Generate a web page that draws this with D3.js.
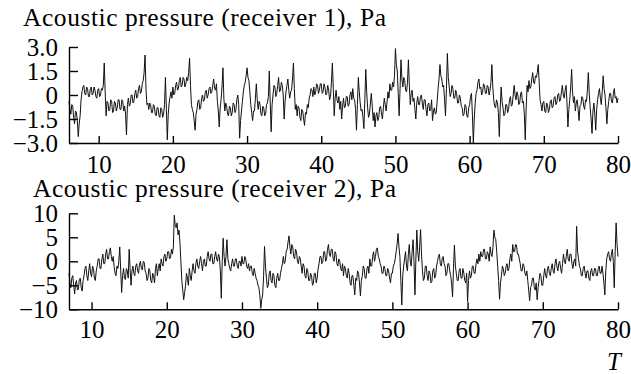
<!DOCTYPE html>
<html><head><meta charset="utf-8">
<script src="https://cdn.jsdelivr.net/npm/d3@7"></script>
<style>
html,body{margin:0;padding:0;background:#fff;}
svg{display:block;}
text{font-family:"Liberation Serif","Times New Roman",serif;fill:#000;}
</style></head>
<body>
<svg id="chart" width="631" height="374"></svg>
<script>
const xTickValues = [10, 20, 30, 40, 50, 60, 70, 80];
const xTickLabels = ["10", "20", "30", "40", "50", "60", "70", "80"];

const title1 = "Acoustic pressure (receiver 1), Pa";
const y1TickValues = [3, 1.5, 0, -1.5, -3];
const y1TickLabels = ["3.0", "1.5", "0", "\u22121.5", "\u22123.0"];
const t1Start = 6, t1Step = 0.125;
const pressure1 = [
 -0.4,-0.9,-1.2,-0.6,-0.7,-1.4,-1.8,-1.0,
 -1.1,-1.6,-2.6,-1.8,-1.3,-0.3,0.2,0.5,
 0.6,0.1,0.0,0.5,0.4,-0.1,-0.1,0.4,
 0.5,0.0,0.1,0.5,0.3,-0.1,-0.2,0.3,
 0.4,-0.1,0.0,0.4,0.3,0.6,2.0,0.2,
 -1.3,-0.4,-0.5,-1.0,-0.9,-0.3,-0.4,-1.1,
 -1.0,-0.4,-0.5,-1.0,-0.8,-0.3,-0.3,-0.9,
 -0.9,-0.3,-0.4,-1.0,-0.7,-1.2,-2.5,-0.6,
 -0.2,-0.7,-0.6,0.0,0.0,-0.5,-0.4,0.1,
 0.3,-0.2,-0.1,0.4,0.6,0.1,0.2,0.7,
 0.9,1.4,2.5,0.4,-0.6,-0.5,-0.9,-0.5,
 -0.6,-1.1,-1.1,-0.6,-0.7,-1.2,-1.3,-0.8,
 -0.8,-1.3,-1.4,-0.8,-0.9,-1.4,-1.2,-0.6,
 1.1,-0.9,-2.8,-1.2,-0.5,-0.1,0.2,-0.2,
 0.5,0.0,0.1,0.6,0.8,0.3,0.4,0.9,
 1.1,0.5,0.6,1.1,1.0,0.5,0.7,1.1,
 0.9,1.4,2.3,0.6,-0.6,-0.9,-1.1,-1.6,
 -2.2,-1.2,-0.9,-0.4,-0.3,-0.9,-0.8,-0.2,
 0.0,-0.4,-0.3,0.2,0.3,-0.2,0.0,0.4,
 0.5,0.1,0.2,0.6,1.0,0.4,0.3,0.7,
 -0.4,-1.0,-2.0,-0.8,-0.3,0.5,1.7,-0.2,
 -1.0,-0.5,-0.7,-1.2,-1.3,-0.7,-0.8,-1.3,
 -1.1,-0.5,-0.6,-1.1,-0.9,-0.3,0.0,-0.6,
 -2.7,-1.6,-1.0,-0.4,0.2,0.6,0.8,1.2,
 1.7,1.1,0.9,0.2,-0.6,-1.1,-1.6,-1.0,
 -1.0,-0.2,0.7,-0.3,-0.9,-0.4,-0.6,-1.2,
 -1.3,-0.7,-0.8,-1.3,-1.2,-0.6,-0.5,-0.1,
 1.5,-0.5,-2.3,-0.6,0.0,0.6,0.5,-0.1,
 0.1,0.6,1.1,0.2,0.3,0.8,0.6,0.0,
 -1.5,-0.4,0.2,0.6,1.0,0.3,-0.2,0.2,
 0.3,1.0,2.0,0.4,-0.9,-0.6,-1.3,-0.7,
 -0.8,-1.4,-1.6,-0.9,-1.0,-1.5,-1.9,-1.1,
 -1.2,-0.6,-0.8,-0.2,0.0,0.4,0.3,-0.1,
 0.5,0.0,0.2,0.7,0.6,0.1,0.3,0.7,
 0.7,0.1,0.2,0.7,0.5,0.0,0.1,0.6,
 0.3,-0.3,-0.1,0.8,2.0,0.4,-1.3,-0.2,
 0.3,-0.3,-0.5,-0.1,-0.9,-0.4,-1.5,-0.7,
 -0.2,-0.8,-0.7,-0.1,-0.1,-0.7,-0.6,0.0,
 0.2,-0.3,0.4,-0.2,-0.3,-0.9,-2.2,-0.6,
 1.1,0.2,-0.5,-1.0,-0.9,-1.4,-2.1,-0.3,
 1.6,0.2,-0.8,-1.4,-1.2,-0.5,0.1,-0.7,
 -1.6,-1.1,-2.0,-1.3,-1.1,-1.6,-1.4,-0.8,
 -0.7,-1.2,-1.5,-0.8,-0.2,-0.6,-1.0,-0.4,
 0.2,-0.2,0.7,0.3,0.3,0.8,0.5,1.2,
 2.9,1.9,1.5,0.1,-1.3,0.4,2.2,1.0,
 0.5,1.1,0.9,0.3,0.2,0.8,2.2,0.6,
 -0.6,0.1,0.3,-0.4,-0.2,-0.9,-1.5,-0.5,
 -0.1,-0.6,-0.6,-0.1,0.0,-0.5,-0.9,-0.3,
 -0.3,-0.9,-1.3,-0.6,-0.5,-1.0,-0.9,-0.3,
 -1.6,-1.0,-0.8,-1.2,-1.1,-0.4,0.4,1.0,
 1.9,1.2,1.0,0.5,0.6,-0.3,-1.3,0.4,
 2.6,1.1,0.5,-0.1,0.1,0.6,0.4,-0.2,
 -0.2,0.3,0.1,-0.5,-0.5,0.0,-0.2,-0.7,
 -0.8,-1.3,-1.2,-0.6,-0.7,-1.3,-1.4,-0.8,
 -0.6,-0.1,0.1,-1.2,-3.0,-1.5,-0.5,0.1,
 0.3,0.8,1.0,0.4,0.5,0.0,0.2,0.7,
 0.6,0.1,0.1,0.6,0.5,0.0,0.3,0.8,
 1.9,0.5,-0.3,-0.7,-0.8,-0.3,-0.5,-1.1,
 -2.6,-0.8,0.5,-0.4,-0.8,-1.3,-1.2,-0.6,
 -0.6,-1.1,-0.9,-0.3,-0.1,-0.7,-0.6,0.0,
 0.6,0.0,-0.3,0.2,0.0,-0.6,-0.5,0.1,
 0.2,-0.5,-0.4,-1.2,-2.8,-0.8,0.6,0.2,
 0.9,0.4,0.5,1.0,1.4,0.8,0.7,1.2,
 1.1,1.4,1.9,0.8,-0.3,-0.6,-1.0,-0.5,
 -0.4,-1.0,-1.1,-0.5,-0.6,-1.1,-0.9,-0.4,
 -0.3,-0.8,-0.7,-0.2,-0.1,-0.6,-0.5,0.0,
 0.1,-0.4,-0.3,0.2,0.6,0.0,-0.2,0.3,
 0.6,-0.5,-2.0,-0.9,-0.3,0.5,1.6,0.2,
 -0.5,-0.1,-1.0,-0.5,-0.3,-0.9,-1.6,-0.7,
 -0.6,-0.1,-0.2,-0.7,-0.9,-0.3,-0.4,0.3,
 1.4,0.1,-0.8,-1.5,-2.4,-1.0,-0.5,-1.2,
 -2.2,-0.9,-0.3,0.1,0.4,-0.2,-0.6,0.2,
 1.2,0.4,0.0,-0.8,-1.8,-0.9,-0.4,0.1,
 0.1,-0.4,-0.5,0.1,0.4,-0.2,-0.1,-0.5,
 -0.2
];

const title2 = "Acoustic pressure (receiver 2), Pa";
const y2TickValues = [10, 5, 0, -5, -10];
const y2TickLabels = ["10", "5", "0", "\u22125", "\u221210"];
const t2Start = 7, t2Step = 0.125;
const pressure2 = [
 -2.5,-4.5,-5.5,-3.5,-3.0,-5.0,-6.8,-4.5,
 -4.0,-6.0,-5.8,-3.8,-3.5,-5.5,-6.2,-4.0,
 -3.0,-1.5,-1.0,-3.0,-4.0,-2.0,-0.5,-2.5,
 -3.2,-1.0,-1.5,-3.5,-4.0,-2.0,-1.0,0.5,
 0.5,-1.5,-1.5,0.5,1.5,-0.5,-0.5,1.5,
 2.5,0.5,0.5,2.0,2.8,1.0,0.0,1.0,
 -1.0,-2.5,-3.0,-1.0,-1.5,0.0,3.0,-2.0,
 -6.5,-3.0,-1.5,-3.5,-3.8,-1.5,-2.0,-3.5,
 2.5,-1.5,-5.0,-2.0,-1.0,-2.5,-3.0,-1.0,
 -0.5,-2.0,-2.5,-0.5,0.0,-1.5,-1.8,0.0,
 -0.2,-2.0,-2.5,-4.0,-3.5,-1.5,-2.0,-4.0,
 -4.5,-2.5,-3.0,-4.5,-1.5,-0.5,-3.0,-1.5,
 -0.5,-2.0,0.5,-0.5,-1.0,1.0,1.5,0.0,
 0.5,2.0,2.0,0.5,0.8,2.5,1.5,3.0,
 9.6,7.5,7.0,8.0,5.5,6.5,4.0,0.0,
 -4.0,-6.0,-8.0,-6.5,-5.0,-2.5,-3.5,-5.0,
 -1.5,-3.0,-4.0,-2.0,-0.5,-2.0,-2.5,-0.5,
 0.5,-1.0,-1.5,0.0,1.0,-0.5,-2.0,0.0,
 0.5,-1.0,-1.0,1.0,2.0,0.5,0.0,1.5,
 1.5,-0.5,-0.5,1.0,2.0,0.5,0.0,1.5,
 1.0,-2.0,-7.7,0.0,4.8,1.0,-1.0,1.0,
 4.5,0.5,-0.5,-1.5,-2.0,-0.5,0.5,-1.0,
 -1.0,0.5,0.5,-1.0,-1.5,0.0,0.0,-1.0,
 1.0,-0.5,-0.5,1.0,0.5,-1.0,-1.5,-0.5,
 -2.0,-1.0,-1.0,-2.5,-3.0,-1.5,-2.5,-3.5,
 -4.0,-5.0,-5.5,-7.0,-9.8,-8.0,-7.0,-3.0,
 3.1,-1.0,-3.5,-5.5,-5.0,-2.5,-2.0,-4.0,
 -4.5,-2.5,-3.0,-5.0,-5.5,-3.5,-2.5,-4.0,
 -4.0,-2.5,-1.5,-0.5,1.0,-0.5,0.0,2.0,
 2.5,4.0,5.3,3.0,1.5,3.5,3.0,1.0,
 0.5,2.5,2.0,0.0,-0.5,1.0,0.5,-1.0,
 -2.5,-0.5,-1.0,-3.0,-3.5,-1.5,-2.0,-4.0,
 -4.0,-2.5,-3.0,-5.0,-4.5,-2.5,-2.5,-4.5,
 -3.5,-1.5,-0.5,1.0,1.0,-0.5,0.0,2.0,
 2.0,0.0,0.5,2.5,3.5,1.5,1.0,2.5,
 2.5,0.5,0.0,2.0,1.5,-0.5,-1.0,0.5,
 0.0,-1.5,-2.0,-0.5,-3.0,-1.0,-1.5,-3.0,
 -3.5,-1.5,-2.5,-4.5,-5.0,-3.0,-3.0,-5.0,
 -7.0,-3.5,-4.0,-2.0,-2.5,-4.5,-7.2,-4.0,
 -3.0,-1.0,-1.5,-3.5,-3.5,-1.5,-1.0,-2.5,
 0.5,-1.0,-1.0,1.0,2.0,0.0,1.0,2.5,
 2.8,1.0,0.5,-0.5,-1.0,-2.5,-2.5,-1.0,
 -1.5,-3.0,-3.0,-1.5,-2.0,-3.5,-4.5,-2.5,
 -2.5,-1.0,-0.5,0.5,2.0,3.5,5.8,3.0,
 1.0,-4.0,-9.1,-3.0,-1.0,0.5,2.0,-1.0,
 -2.0,1.5,3.5,0.0,-1.0,2.0,4.5,0.0,
 -7.0,0.5,6.5,2.0,0.0,3.0,6.6,1.5,
 -2.0,-4.0,-3.5,-1.0,-1.0,-3.0,-4.0,-2.0,
 -2.5,-4.5,-4.2,-2.0,-1.5,-3.5,-3.0,-1.0,
 0.0,1.0,1.5,-0.5,-1.0,0.5,1.0,-0.5,
 -1.0,-3.0,-2.5,-0.5,-0.5,-2.0,-3.0,-4.5,
 -7.4,-1.5,3.4,-1.0,-2.5,-4.0,-4.0,-2.0,
 -1.5,-3.5,-3.5,-1.5,-2.5,-4.0,-4.5,-2.5,
 -8.4,-4.0,-2.0,-3.5,-3.0,-1.0,-1.0,-2.5,
 -2.5,-0.5,0.5,-0.5,1.5,0.0,2.0,1.0,
 1.0,2.5,2.5,0.5,0.5,2.0,1.5,0.0,
 3.0,1.5,1.0,3.0,6.5,5.0,4.5,2.0,
 -1.0,-4.0,-7.9,-4.5,-3.0,-1.0,-1.5,-3.0,
 -2.5,-1.0,-0.5,-2.0,-1.5,0.5,1.5,0.0,
 3.5,2.0,2.0,3.5,3.4,1.5,1.5,0.5,
 -0.5,-2.0,-2.0,-0.5,-1.0,-2.5,-3.0,-2.0,
 -4.0,-6.0,-8.2,-5.5,-5.0,-3.5,-3.5,-5.5,
 -6.0,-4.5,-8.0,-5.5,-4.0,-2.5,-3.0,-5.0,
 -5.0,-3.0,-1.5,-3.0,-3.5,-1.5,-1.0,-2.5,
 -3.0,-1.5,-0.5,-2.0,-2.5,-0.5,0.5,-1.0,
 -2.0,-0.5,0.0,-1.5,-2.5,-0.5,1.5,0.0,
 -0.5,1.0,2.5,0.5,0.0,1.5,1.5,-0.5,
 -1.5,0.0,0.5,-1.0,7.3,2.0,0.5,-1.0,
 -1.5,-3.0,-3.0,-1.5,-1.0,-2.5,-3.5,-2.0,
 -2.0,-3.5,-4.0,-2.0,-1.5,-3.0,-3.0,-1.5,
 -1.5,-3.0,-3.0,-1.5,-1.0,-2.5,-2.5,-1.0,
 -2.5,-4.5,-7.0,-2.0,0.5,1.5,2.0,0.5,
 0.0,1.5,2.5,0.0,-5.5,2.0,8.0,3.5,
 1.0
];
const xAxisTitle = "T";

// ---- drawing ----
const svg = d3.select("#chart");
const FS = 25;

function panel(cfg) {
  const x = d3.scaleLinear().domain(cfg.xDomain).range([69, 618]);
  const y = d3.scaleLinear().domain([cfg.yTicks[cfg.yTicks.length - 1], cfg.yTicks[0]]).range([cfg.yBottom, cfg.yTop]);
  const g = svg.append("g");

  const line = d3.line()
    .x((d, i) => x(cfg.t0 + i * cfg.step))
    .y(d => y(d));
  g.append("path").datum(cfg.values)
    .attr("d", line)
    .attr("fill", "none")
    .attr("stroke", "#111")
    .attr("stroke-width", 1.0)
    .attr("stroke-linejoin", "round");

  const xAxis = d3.axisBottom(x)
    .tickValues(xTickValues)
    .tickFormat((d, i) => xTickLabels[i])
    .tickSizeInner(-7).tickSizeOuter(0).tickPadding(cfg.xPad);
  const gx = g.append("g").attr("transform", `translate(0,${cfg.yBottom})`).call(xAxis);
  gx.select(".domain").attr("stroke", "#000").attr("stroke-width", 1.4);
  gx.selectAll(".tick line").attr("stroke", "#000").attr("stroke-width", 1.4);
  gx.selectAll("text").attr("font-size", FS).attr("font-family", "Liberation Serif").attr("fill", "#000");

  const yAxis = d3.axisLeft(y)
    .tickValues(cfg.yTicks)
    .tickFormat((d, i) => cfg.yLabels[i])
    .tickSizeInner(-9).tickSizeOuter(0).tickPadding(11);
  const gy = g.append("g").attr("transform", "translate(69,0)").call(yAxis);
  gy.select(".domain").attr("stroke", "#000").attr("stroke-width", 1.4);
  gy.selectAll(".tick line").attr("stroke", "#000").attr("stroke-width", 1.4);
  gy.selectAll("text").attr("font-size", FS).attr("font-family", "Liberation Serif").attr("fill", "#000");

  g.append("text").attr("x", cfg.titleX).attr("y", cfg.titleY)
    .attr("font-size", 25.5).attr("letter-spacing", 0.55).text(cfg.title);
}

panel({xDomain: [6, 80], yTicks: y1TickValues, yLabels: y1TickLabels, yTop: 47, yBottom: 143,
       t0: t1Start, step: t1Step, values: pressure1, title: title1, titleX: 23, titleY: 26, xPad: 12});
panel({xDomain: [7, 80], yTicks: y2TickValues, yLabels: y2TickLabels, yTop: 213.3, yBottom: 309.3,
       t0: t2Start, step: t2Step, values: pressure2, title: title2, titleX: 33, titleY: 197, xPad: 11});

svg.append("text").attr("x", 607).attr("y", 370)
  .attr("font-size", FS).attr("font-style", "italic").text(xAxisTitle);
</script>
</body></html>
